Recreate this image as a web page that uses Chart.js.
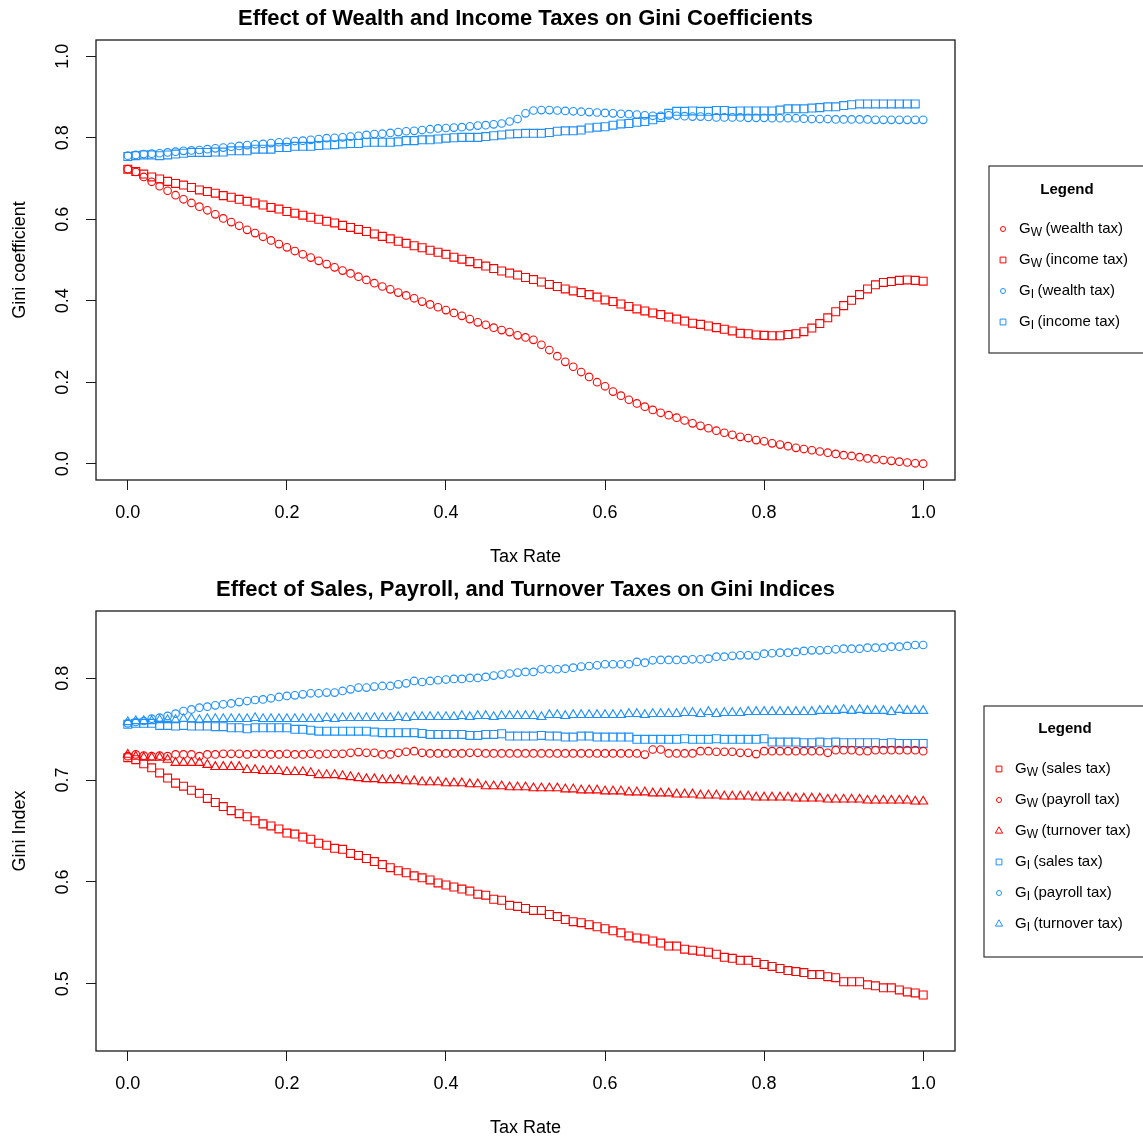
<!DOCTYPE html>
<html>
<head>
<meta charset="utf-8">
<title>Effect of taxes on Gini coefficients</title>
<script src="https://cdn.jsdelivr.net/npm/chart.js@4.4.1/dist/chart.umd.min.js"></script>
<style>
  html, body { margin: 0; padding: 0; background: #fff; }
  #wrap { position: relative; width: 1143px; height: 1141px; overflow: hidden; }
  canvas { position: absolute; left: 0; }
  #topChart { top: 0; }
  #bottomChart { top: 571px; }
</style>
</head>
<body>
<div id="wrap">
  <canvas id="topChart" width="1143" height="570"></canvas>
  <canvas id="bottomChart" width="1143" height="570"></canvas>
</div>
<script>
  const FONT = '"Liberation Sans", Arial, sans-serif';
  const RED = '#FF0000';
  const BLUE = '#1E90FF';

  // Tax rates (x values), shared by both panels
  const taxRates = [
    0.00, 0.01, 0.02, 0.03, 0.04, 0.05, 0.06, 0.07, 0.08, 0.09,
    0.10, 0.11, 0.12, 0.13, 0.14, 0.15, 0.16, 0.17, 0.18, 0.19,
    0.20, 0.21, 0.22, 0.23, 0.24, 0.25, 0.26, 0.27, 0.28, 0.29,
    0.30, 0.31, 0.32, 0.33, 0.34, 0.35, 0.36, 0.37, 0.38, 0.39,
    0.40, 0.41, 0.42, 0.43, 0.44, 0.45, 0.46, 0.47, 0.48, 0.49,
    0.50, 0.51, 0.52, 0.53, 0.54, 0.55, 0.56, 0.57, 0.58, 0.59,
    0.60, 0.61, 0.62, 0.63, 0.64, 0.65, 0.66, 0.67, 0.68, 0.69,
    0.70, 0.71, 0.72, 0.73, 0.74, 0.75, 0.76, 0.77, 0.78, 0.79,
    0.80, 0.81, 0.82, 0.83, 0.84, 0.85, 0.86, 0.87, 0.88, 0.89,
    0.90, 0.91, 0.92, 0.93, 0.94, 0.95, 0.96, 0.97, 0.98, 0.99, 1.00
  ];

  const xTicks = [0.0, 0.2, 0.4, 0.6, 0.8, 1.0];
  const topYTicks = [0.0, 0.2, 0.4, 0.6, 0.8, 1.0];
  const bottomYTicks = [0.5, 0.6, 0.7, 0.8];

  // Top panel: wealth and income taxes
  const wealthTaxGw = [
    0.723, 0.716, 0.704, 0.692, 0.681, 0.670, 0.659, 0.649, 0.640, 0.631,
    0.622, 0.612, 0.602, 0.593, 0.584, 0.574, 0.566, 0.557, 0.548, 0.539,
    0.531, 0.522, 0.514, 0.506, 0.498, 0.490, 0.482, 0.474, 0.467, 0.459,
    0.451, 0.443, 0.435, 0.428, 0.420, 0.413, 0.406, 0.398, 0.391, 0.384,
    0.377, 0.370, 0.363, 0.355, 0.347, 0.341, 0.334, 0.328, 0.323, 0.315,
    0.310, 0.304, 0.292, 0.279, 0.264, 0.250, 0.238, 0.225, 0.213, 0.200,
    0.190, 0.177, 0.167, 0.157, 0.148, 0.140, 0.132, 0.125, 0.119, 0.113,
    0.106, 0.099, 0.093, 0.087, 0.081, 0.076, 0.071, 0.066, 0.063, 0.058,
    0.055, 0.050, 0.047, 0.043, 0.039, 0.036, 0.033, 0.030, 0.027, 0.024,
    0.021, 0.019, 0.016, 0.013, 0.011, 0.009, 0.007, 0.005, 0.003, 0.001, 0.000
  ];
  const incomeTaxGw = [
    0.723, 0.717, 0.711, 0.704, 0.699, 0.693, 0.688, 0.684, 0.678, 0.672,
    0.668, 0.664, 0.658, 0.654, 0.649, 0.644, 0.640, 0.635, 0.629, 0.625,
    0.619, 0.615, 0.610, 0.605, 0.600, 0.595, 0.591, 0.585, 0.580, 0.575,
    0.570, 0.564, 0.558, 0.552, 0.546, 0.541, 0.535, 0.530, 0.524, 0.519,
    0.514, 0.507, 0.502, 0.496, 0.491, 0.485, 0.479, 0.473, 0.468, 0.463,
    0.457, 0.452, 0.446, 0.440, 0.435, 0.429, 0.424, 0.420, 0.415, 0.409,
    0.402, 0.398, 0.392, 0.386, 0.380, 0.375, 0.370, 0.366, 0.360, 0.355,
    0.350, 0.345, 0.342, 0.338, 0.334, 0.330, 0.326, 0.320, 0.319, 0.316,
    0.315, 0.314, 0.314, 0.317, 0.319, 0.324, 0.333, 0.344, 0.358, 0.373,
    0.388, 0.401, 0.415, 0.429, 0.439, 0.445, 0.447, 0.450, 0.451, 0.450, 0.448
  ];
  const wealthTaxGi = [
    0.756, 0.758, 0.760, 0.761, 0.762, 0.764, 0.766, 0.768, 0.769, 0.770,
    0.772, 0.774, 0.776, 0.778, 0.780, 0.782, 0.784, 0.785, 0.787, 0.789,
    0.790, 0.792, 0.793, 0.795, 0.797, 0.799, 0.800, 0.801, 0.803, 0.805,
    0.807, 0.809, 0.810, 0.812, 0.814, 0.816, 0.817, 0.819, 0.821, 0.823,
    0.824, 0.825, 0.826, 0.828, 0.830, 0.831, 0.833, 0.835, 0.840, 0.846,
    0.860, 0.867, 0.868, 0.868, 0.867, 0.866, 0.865, 0.864, 0.863, 0.862,
    0.861, 0.860, 0.859, 0.858, 0.857, 0.855, 0.854, 0.854, 0.855, 0.854,
    0.853, 0.852, 0.852, 0.851, 0.850, 0.850, 0.850, 0.850, 0.849, 0.849,
    0.849, 0.848, 0.848, 0.848, 0.848, 0.847, 0.846, 0.846, 0.846, 0.845,
    0.845, 0.845, 0.845, 0.845, 0.844, 0.844, 0.844, 0.844, 0.844, 0.844, 0.844
  ];
  // last point (100% income tax) is missing in the original
  const incomeTaxGi = [
    0.754, 0.756, 0.758, 0.758, 0.756, 0.758, 0.760, 0.762, 0.764, 0.764,
    0.764, 0.765, 0.765, 0.768, 0.768, 0.768, 0.772, 0.772, 0.772, 0.776,
    0.776, 0.779, 0.779, 0.779, 0.781, 0.782, 0.783, 0.785, 0.786, 0.786,
    0.789, 0.789, 0.789, 0.789, 0.790, 0.793, 0.793, 0.795, 0.795, 0.797,
    0.799, 0.800, 0.801, 0.801, 0.801, 0.803, 0.805, 0.807, 0.809, 0.810,
    0.811, 0.811, 0.811, 0.813, 0.816, 0.817, 0.817, 0.819, 0.824, 0.826,
    0.827, 0.831, 0.834, 0.835, 0.838, 0.840, 0.844, 0.850, 0.860, 0.865,
    0.865, 0.866, 0.865, 0.865, 0.867, 0.867, 0.865, 0.866, 0.866, 0.866,
    0.866, 0.866, 0.868, 0.871, 0.871, 0.871, 0.873, 0.874, 0.876, 0.876,
    0.879, 0.881, 0.883, 0.883, 0.883, 0.883, 0.883, 0.883, 0.883, 0.883, null
  ];

  // Bottom panel: sales, payroll and turnover taxes
  const salesTaxGw = [
    0.722, 0.720, 0.716, 0.712, 0.707, 0.702, 0.697, 0.694, 0.690, 0.687,
    0.682, 0.678, 0.674, 0.670, 0.667, 0.664, 0.660, 0.657, 0.655, 0.652,
    0.648, 0.647, 0.644, 0.642, 0.638, 0.636, 0.633, 0.632, 0.628, 0.626,
    0.623, 0.620, 0.617, 0.614, 0.611, 0.609, 0.606, 0.604, 0.602, 0.599,
    0.597, 0.595, 0.593, 0.591, 0.588, 0.587, 0.583, 0.582, 0.577, 0.576,
    0.574, 0.572, 0.572, 0.568, 0.566, 0.563, 0.561, 0.560, 0.558, 0.556,
    0.554, 0.552, 0.550, 0.547, 0.545, 0.544, 0.542, 0.540, 0.537, 0.537,
    0.534, 0.533, 0.532, 0.531, 0.529, 0.526, 0.525, 0.523, 0.523, 0.521,
    0.519, 0.517, 0.515, 0.513, 0.512, 0.511, 0.509, 0.509, 0.507, 0.506,
    0.502, 0.502, 0.502, 0.499, 0.498, 0.496, 0.496, 0.494, 0.492, 0.491, 0.489
  ];
  const payrollTaxGw = [
    0.7235, 0.7252, 0.7240, 0.7235, 0.7240, 0.7235, 0.7252, 0.7252, 0.7252, 0.7235,
    0.7252, 0.7252, 0.7258, 0.7258, 0.7258, 0.7252, 0.7258, 0.7258, 0.7252, 0.7252,
    0.7258, 0.7252, 0.7252, 0.7258, 0.7252, 0.7258, 0.7258, 0.7258, 0.7268, 0.7275,
    0.7268, 0.7268, 0.7252, 0.7252, 0.7268, 0.7278, 0.7284, 0.7268, 0.7262, 0.7262,
    0.7262, 0.7262, 0.7262, 0.7268, 0.7268, 0.7262, 0.7262, 0.7262, 0.7262, 0.7262,
    0.7262, 0.7262, 0.7262, 0.7262, 0.7262, 0.7262, 0.7262, 0.7262, 0.7262, 0.7262,
    0.7262, 0.7262, 0.7262, 0.7262, 0.7262, 0.7250, 0.7300, 0.7300, 0.7262, 0.7262,
    0.7262, 0.7262, 0.7284, 0.7284, 0.7278, 0.7278, 0.7278, 0.7268, 0.7268, 0.7255,
    0.7284, 0.7284, 0.7284, 0.7284, 0.7284, 0.7284, 0.7284, 0.7284, 0.7268, 0.7294,
    0.7294, 0.7294, 0.7284, 0.7284, 0.7294, 0.7294, 0.7294, 0.7294, 0.7294, 0.7294, 0.7284
  ];
  const turnoverTaxGw = [
    0.725, 0.723, 0.722, 0.722, 0.722, 0.720, 0.717, 0.717, 0.717, 0.717,
    0.715, 0.713, 0.713, 0.713, 0.713, 0.710, 0.710, 0.709, 0.709, 0.709,
    0.708, 0.708, 0.708, 0.707, 0.705, 0.705, 0.705, 0.704, 0.703, 0.702,
    0.701, 0.701, 0.700, 0.700, 0.700, 0.699, 0.699, 0.698, 0.698, 0.698,
    0.697, 0.697, 0.697, 0.696, 0.696, 0.694, 0.694, 0.694, 0.693, 0.693,
    0.693, 0.692, 0.692, 0.692, 0.692, 0.691, 0.691, 0.690, 0.690, 0.690,
    0.689, 0.689, 0.689, 0.688, 0.688, 0.688, 0.687, 0.687, 0.687, 0.686,
    0.686, 0.686, 0.685, 0.685, 0.685, 0.684, 0.684, 0.684, 0.684, 0.683,
    0.683, 0.683, 0.683, 0.683, 0.682, 0.682, 0.682, 0.682, 0.681, 0.681,
    0.681, 0.681, 0.681, 0.680, 0.680, 0.680, 0.680, 0.680, 0.680, 0.679, 0.679
  ];
  const salesTaxGi = [
    0.7547, 0.7557, 0.7557, 0.7557, 0.7537, 0.7537, 0.7530, 0.7537, 0.7530, 0.7530,
    0.7530, 0.7524, 0.7524, 0.7514, 0.7514, 0.7504, 0.7514, 0.7514, 0.7514, 0.7514,
    0.7514, 0.7498, 0.7498, 0.7490, 0.7480, 0.7480, 0.7480, 0.7480, 0.7480, 0.7480,
    0.7480, 0.7471, 0.7465, 0.7465, 0.7465, 0.7465, 0.7465, 0.7458, 0.7448, 0.7448,
    0.7448, 0.7448, 0.7448, 0.7438, 0.7438, 0.7448, 0.7448, 0.7455, 0.7432, 0.7432,
    0.7432, 0.7432, 0.7438, 0.7432, 0.7432, 0.7422, 0.7422, 0.7432, 0.7432, 0.7422,
    0.7422, 0.7422, 0.7422, 0.7422, 0.7400, 0.7400, 0.7400, 0.7400, 0.7400, 0.7400,
    0.7406, 0.7400, 0.7400, 0.7400, 0.7406, 0.7400, 0.7400, 0.7400, 0.7400, 0.7400,
    0.7406, 0.7373, 0.7373, 0.7373, 0.7373, 0.7367, 0.7367, 0.7373, 0.7367, 0.7373,
    0.7367, 0.7367, 0.7367, 0.7367, 0.7367, 0.7360, 0.7367, 0.7360, 0.7360, 0.7360, 0.7360
  ];
  const payrollTaxGi = [
    0.7557, 0.7570, 0.7580, 0.7603, 0.7613, 0.7630, 0.7652, 0.7678, 0.7694, 0.7711,
    0.7721, 0.7734, 0.7744, 0.7753, 0.7766, 0.7776, 0.7786, 0.7792, 0.7803, 0.7816,
    0.7826, 0.7832, 0.7842, 0.7852, 0.7852, 0.7859, 0.7859, 0.7875, 0.7891, 0.7908,
    0.7908, 0.7918, 0.7924, 0.7924, 0.7940, 0.7950, 0.7973, 0.7963, 0.7973, 0.7980,
    0.7987, 0.7993, 0.7993, 0.8003, 0.8003, 0.8013, 0.8026, 0.8036, 0.8046, 0.8055,
    0.8062, 0.8062, 0.8088, 0.8088, 0.8088, 0.8094, 0.8104, 0.8114, 0.8120, 0.8127,
    0.8137, 0.8137, 0.8137, 0.8137, 0.8160, 0.8153, 0.8176, 0.8180, 0.8180, 0.8180,
    0.8180, 0.8186, 0.8186, 0.8192, 0.8212, 0.8212, 0.8220, 0.8225, 0.8225, 0.8220,
    0.8241, 0.8245, 0.8251, 0.8251, 0.8258, 0.8268, 0.8274, 0.8274, 0.8277, 0.8284,
    0.8290, 0.8290, 0.8290, 0.8300, 0.8300, 0.8300, 0.8310, 0.8310, 0.8317, 0.8326, 0.8326
  ];
  const turnoverTaxGi = [
    0.757, 0.758, 0.758, 0.758, 0.759, 0.759, 0.759, 0.760, 0.760, 0.759,
    0.760, 0.760, 0.760, 0.760, 0.760, 0.760, 0.761, 0.760, 0.760, 0.760,
    0.760, 0.760, 0.760, 0.760, 0.760, 0.761, 0.760, 0.761, 0.761, 0.761,
    0.761, 0.761, 0.761, 0.761, 0.762, 0.761, 0.762, 0.762, 0.762, 0.762,
    0.762, 0.762, 0.763, 0.762, 0.763, 0.763, 0.762, 0.763, 0.763, 0.763,
    0.763, 0.763, 0.762, 0.764, 0.764, 0.763, 0.764, 0.764, 0.764, 0.764,
    0.764, 0.764, 0.764, 0.765, 0.765, 0.764, 0.765, 0.765, 0.765, 0.765,
    0.766, 0.766, 0.765, 0.767, 0.765, 0.766, 0.766, 0.766, 0.767, 0.767,
    0.767, 0.767, 0.767, 0.767, 0.767, 0.767, 0.767, 0.768, 0.768, 0.768,
    0.769, 0.768, 0.769, 0.768, 0.768, 0.768, 0.767, 0.769, 0.768, 0.768, 0.768
  ];

  // marker radius per point style (chart.js units)
  const markerRadius = { circle: 3.8, rect: 5.6, triangle: 5.2 };
  const legendRadius = { circle: 2.5, rect: 4.1, triangle: 4.2 };

  function toPoints(values) {
    return taxRates.map((x, i) => ({ x: x, y: values[i] }));
  }

  function makeDataset(label, values, color, style) {
    return {
      label: label,
      data: toPoints(values),
      showLine: false,
      pointStyle: style,
      pointRadius: markerRadius[style],
      pointHoverRadius: markerRadius[style],
      pointBorderWidth: 1.1,
      pointBorderColor: color,
      pointBackgroundColor: 'rgba(0,0,0,0)',
      borderColor: color,
      backgroundColor: 'rgba(0,0,0,0)'
    };
  }

  // Draws the R-like frame, title, rotated y labels and legend box
  const baseDecor = {
    id: 'baseDecor',
    afterDraw(chart, args, opts) {
      const ctx = chart.ctx;
      const area = chart.chartArea;

      ctx.save();
      // plot box
      ctx.strokeStyle = '#1a1a1a';
      ctx.lineWidth = 1.3;
      ctx.strokeRect(area.left, area.top, area.right - area.left, area.bottom - area.top);

      // main title
      ctx.fillStyle = '#000';
      ctx.font = 'bold 22px ' + FONT;
      ctx.textAlign = 'center';
      ctx.textBaseline = 'middle';
      ctx.fillText(opts.title, (area.left + area.right) / 2, 19);

      // y tick labels, rotated like R's las = 0
      const yScale = chart.scales.y;
      ctx.font = '18px ' + FONT;
      opts.yTicks.forEach((v) => {
        ctx.save();
        ctx.translate(63, yScale.getPixelForValue(v));
        ctx.rotate(-Math.PI / 2);
        ctx.fillText(v.toFixed(1), 0, 0);
        ctx.restore();
      });

      // legend
      const lg = opts.legend;
      ctx.strokeStyle = '#333';
      ctx.lineWidth = 1.2;
      ctx.strokeRect(lg.left, lg.top, 1160 - lg.left, lg.bottom - lg.top);
      ctx.font = 'bold 15px ' + FONT;
      ctx.fillText('Legend', lg.titleX, lg.titleY);

      lg.items.forEach((item, i) => {
        const y = lg.firstY + i * lg.step;
        ctx.strokeStyle = item.color;
        ctx.fillStyle = 'rgba(0,0,0,0)';
        ctx.lineWidth = 1;
        Chart.helpers.drawPoint(ctx, {
          pointStyle: item.style, radius: legendRadius[item.style], rotation: 0, borderWidth: 1
        }, lg.markerX, y);

        ctx.fillStyle = '#000';
        ctx.textAlign = 'left';
        let x = lg.textX;
        ctx.font = '15px ' + FONT;
        ctx.fillText('G', x, y);
        x += ctx.measureText('G').width;
        ctx.font = '12px ' + FONT;
        ctx.fillText(item.sub, x, y + 3.5);
        x += ctx.measureText(item.sub).width + 3.5;
        ctx.font = '15px ' + FONT;
        ctx.fillText(item.text, x, y);
      });
      ctx.restore();
    }
  };

  function makeScales(yMin, yMax, yTicks, yTitle) {
    return {
      x: {
        type: 'linear',
        min: -0.04,
        max: 1.04,
        afterBuildTicks: (axis) => { axis.ticks = xTicks.map((v) => ({ value: v })); },
        afterFit: (axis) => { axis.height = 90; },
        ticks: {
          font: { family: FONT, size: 18 },
          color: '#000',
          padding: 12,
          maxRotation: 0,
          autoSkip: false,
          callback: (v) => v.toFixed(1)
        },
        grid: { drawOnChartArea: false, drawTicks: true, tickLength: 10, color: '#1a1a1a', lineWidth: 1 },
        border: { display: false },
        title: {
          display: true,
          text: 'Tax Rate',
          font: { family: FONT, size: 18 },
          color: '#000',
          padding: { top: 0, bottom: 2 }
        }
      },
      y: {
        type: 'linear',
        min: yMin,
        max: yMax,
        afterBuildTicks: (axis) => { axis.ticks = yTicks.map((v) => ({ value: v })); },
        afterFit: (axis) => { axis.width = 96; },
        ticks: { display: false },
        grid: { drawOnChartArea: false, drawTicks: true, tickLength: 10, color: '#1a1a1a', lineWidth: 1 },
        border: { display: false },
        title: {
          display: true,
          text: yTitle,
          font: { family: FONT, size: 18 },
          color: '#000',
          padding: { top: 9, bottom: 0 }
        }
      }
    };
  }

  function makeChart(canvasId, datasets, scales, decor) {
    return new Chart(document.getElementById(canvasId).getContext('2d'), {
      type: 'scatter',
      data: { datasets: datasets },
      options: {
        responsive: false,
        devicePixelRatio: 1,
        animation: false,
        layout: { padding: { left: 0, top: 40, right: 188, bottom: 0 } },
        plugins: {
          legend: { display: false },
          title: { display: false },
          tooltip: { enabled: false },
          baseDecor: decor
        },
        scales: scales
      },
      plugins: [baseDecor]
    });
  }

  // Top chart
  makeChart('topChart', [
    makeDataset('GW (wealth tax)', wealthTaxGw, RED, 'circle'),
    makeDataset('GW (income tax)', incomeTaxGw, RED, 'rect'),
    makeDataset('GI (wealth tax)', wealthTaxGi, BLUE, 'circle'),
    makeDataset('GI (income tax)', incomeTaxGi, BLUE, 'rect')
  ], makeScales(-0.04, 1.04, topYTicks, 'Gini coefficient'), {
    title: 'Effect of Wealth and Income Taxes on Gini Coefficients',
    yTicks: topYTicks,
    legend: {
      left: 989, top: 166, bottom: 353,
      titleX: 1067, titleY: 190,
      markerX: 1003, textX: 1019, firstY: 229, step: 31,
      items: [
        { sub: 'W', text: '(wealth tax)', color: RED, style: 'circle' },
        { sub: 'W', text: '(income tax)', color: RED, style: 'rect' },
        { sub: 'I', text: '(wealth tax)', color: BLUE, style: 'circle' },
        { sub: 'I', text: '(income tax)', color: BLUE, style: 'rect' }
      ]
    }
  });

  // Bottom chart
  makeChart('bottomChart', [
    makeDataset('GW (sales tax)', salesTaxGw, RED, 'rect'),
    makeDataset('GW (payroll tax)', payrollTaxGw, RED, 'circle'),
    makeDataset('GW (turnover tax)', turnoverTaxGw, RED, 'triangle'),
    makeDataset('GI (sales tax)', salesTaxGi, BLUE, 'rect'),
    makeDataset('GI (payroll tax)', payrollTaxGi, BLUE, 'circle'),
    makeDataset('GI (turnover tax)', turnoverTaxGi, BLUE, 'triangle')
  ], makeScales(0.434, 0.866, bottomYTicks, 'Gini Index'), {
    title: 'Effect of Sales, Payroll, and Turnover Taxes on Gini Indices',
    yTicks: bottomYTicks,
    legend: {
      left: 984, top: 135, bottom: 386,
      titleX: 1065, titleY: 158,
      markerX: 999, textX: 1015, firstY: 198, step: 31,
      items: [
        { sub: 'W', text: '(sales tax)', color: RED, style: 'rect' },
        { sub: 'W', text: '(payroll tax)', color: RED, style: 'circle' },
        { sub: 'W', text: '(turnover tax)', color: RED, style: 'triangle' },
        { sub: 'I', text: '(sales tax)', color: BLUE, style: 'rect' },
        { sub: 'I', text: '(payroll tax)', color: BLUE, style: 'circle' },
        { sub: 'I', text: '(turnover tax)', color: BLUE, style: 'triangle' }
      ]
    }
  });
</script>
</body>
</html>
